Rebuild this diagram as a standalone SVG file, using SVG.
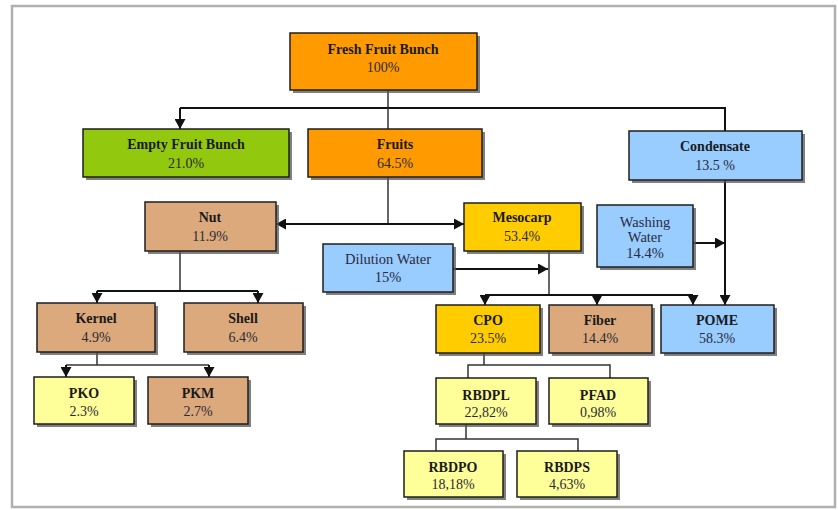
<svg xmlns="http://www.w3.org/2000/svg" width="838" height="510" viewBox="0 0 838 510">
<defs>
<marker id="ah" viewBox="0 0 10 11" refX="10" refY="5.5" markerWidth="10" markerHeight="11" markerUnits="userSpaceOnUse" orient="auto">
<path d="M0,0 L10,5.5 L0,11 z" fill="#111"/>
</marker>
</defs>
<style>
.sh{fill:#555;opacity:0.75}
.bx{stroke:#1e1e1e;stroke-width:1.5}
.or{fill:#FF9A00}
.gr{fill:#92C80E}
.bl{fill:#99CCFF}
.tn{fill:#DCA97C}
.gd{fill:#FFCC00}
.ly{fill:#FFFF99}
.t{font-family:"Liberation Serif","Times New Roman",serif;font-size:14px;font-weight:bold;fill:#1a1a1a;text-anchor:middle}
.p{font-family:"Liberation Serif","Times New Roman",serif;font-size:14px;fill:#2a2a36;text-anchor:middle}
.r{font-family:"Liberation Serif","Times New Roman",serif;font-size:14.5px;fill:#2a2a40;text-anchor:middle}
.c{fill:none;stroke:#111;stroke-width:2}
.ct{fill:none;stroke:#333;stroke-width:1.5}
.a{marker-end:url(#ah)}
</style>
<rect x="0" y="0" width="838" height="510" fill="#ffffff"/>
<rect x="12" y="6" width="823" height="501" fill="none" stroke="#b0b0b0" stroke-width="2.5"/>

<g id="connectors">
<path class="ct" d="M388,90 V108"/>
<path class="c" d="M180,108 H725 V131"/>
<path class="c a" d="M180,108 V129"/>
<path class="ct" d="M388,108 V129"/>
<path class="ct" d="M388,177 V224"/>
<path class="c a" d="M388,224 H276"/>
<path class="c a" d="M388,224 H464"/>
<path class="c a" d="M725,180 V305"/>
<path class="c a" d="M693,243 H725"/>
<path class="ct" d="M549,251 V295"/>
<path class="c a" d="M453,269 H548"/>
<path class="c" d="M485,295 H693"/>
<path class="c a" d="M485,295 V305"/>
<path class="c a" d="M597,295 V305"/>
<path class="c a" d="M693,295 V305"/>
<path class="ct" d="M180,251 V291"/>
<path class="c" d="M97,291 H258"/>
<path class="c a" d="M97,291 V303"/>
<path class="c a" d="M258,291 V303"/>
<path class="ct" d="M97,352 V365"/>
<path class="ct" d="M66,365 H209"/>
<path class="c a" d="M66,365 V377"/>
<path class="c a" d="M209,365 V377"/>
<path class="ct" d="M484,353 V365 M468,378 V365 H610 V378"/>
<path class="ct" d="M466,424 V439 M436,451 V439 H578 V451"/>
</g>

<g id="ffb">
<rect class="sh" x="293" y="36" width="187" height="57"/>
<rect class="bx or" x="290" y="33" width="187" height="57"/>
<text class="t" x="383" y="54">Fresh Fruit Bunch</text>
<text class="p" x="383" y="72">100%</text>
</g>
<g id="efb">
<rect class="sh" x="86" y="132" width="206" height="48"/>
<rect class="bx gr" x="83" y="129" width="206" height="48"/>
<text class="t" x="186" y="149">Empty Fruit Bunch</text>
<text class="p" x="186" y="168">21.0%</text>
</g>
<g id="fruits">
<rect class="sh" x="311" y="132" width="174" height="48"/>
<rect class="bx or" x="308" y="129" width="174" height="48"/>
<text class="t" x="395" y="149">Fruits</text>
<text class="p" x="395" y="168">64.5%</text>
</g>
<g id="condensate">
<rect class="sh" x="632" y="134" width="173" height="49"/>
<rect class="bx bl" x="629" y="131" width="173" height="49"/>
<text class="t" x="715" y="151">Condensate</text>
<text class="p" x="715" y="170">13.5 %</text>
</g>
<g id="nut">
<rect class="sh" x="148" y="205" width="131" height="49"/>
<rect class="bx tn" x="145" y="202" width="131" height="49"/>
<text class="t" x="210" y="222">Nut</text>
<text class="p" x="210" y="241">11.9%</text>
</g>
<g id="mesocarp">
<rect class="sh" x="467" y="206" width="117" height="48"/>
<rect class="bx gd" x="464" y="203" width="117" height="48"/>
<text class="t" x="522" y="222">Mesocarp</text>
<text class="p" x="522" y="241">53.4%</text>
</g>
<g id="dilution">
<rect class="sh" x="326" y="247" width="130" height="48"/>
<rect class="bx bl" x="323" y="244" width="130" height="48"/>
<text class="r" x="388" y="264">Dilution Water</text>
<text class="r" x="388" y="282">15%</text>
</g>
<g id="washing">
<rect class="sh" x="600" y="208" width="96" height="62"/>
<rect class="bx bl" x="597" y="205" width="96" height="62"/>
<text class="r" x="645" y="227">Washing</text>
<text class="r" x="645" y="242">Water</text>
<text class="r" x="645" y="258">14.4%</text>
</g>
<g id="kernel">
<rect class="sh" x="40" y="306" width="118" height="49"/>
<rect class="bx tn" x="37" y="303" width="118" height="49"/>
<text class="t" x="96" y="323">Kernel</text>
<text class="p" x="96" y="342">4.9%</text>
</g>
<g id="shell">
<rect class="sh" x="187" y="306" width="119" height="49"/>
<rect class="bx tn" x="184" y="303" width="119" height="49"/>
<text class="t" x="243" y="323">Shell</text>
<text class="p" x="243" y="342">6.4%</text>
</g>
<g id="cpo">
<rect class="sh" x="439" y="308" width="104" height="48"/>
<rect class="bx gd" x="436" y="305" width="104" height="48"/>
<text class="t" x="488" y="325">CPO</text>
<text class="p" x="488" y="343">23.5%</text>
</g>
<g id="fiber">
<rect class="sh" x="552" y="308" width="103" height="48"/>
<rect class="bx tn" x="549" y="305" width="103" height="48"/>
<text class="t" x="600" y="325">Fiber</text>
<text class="p" x="600" y="343">14.4%</text>
</g>
<g id="pome">
<rect class="sh" x="664" y="308" width="113" height="48"/>
<rect class="bx bl" x="661" y="305" width="113" height="48"/>
<text class="t" x="717" y="325">POME</text>
<text class="p" x="717" y="343">58.3%</text>
</g>
<g id="pko">
<rect class="sh" x="37" y="380" width="100" height="47"/>
<rect class="bx ly" x="34" y="377" width="100" height="47"/>
<text class="t" x="84" y="398">PKO</text>
<text class="p" x="84" y="416">2.3%</text>
</g>
<g id="pkm">
<rect class="sh" x="151" y="380" width="100" height="47"/>
<rect class="bx tn" x="148" y="377" width="100" height="47"/>
<text class="t" x="198" y="398">PKM</text>
<text class="p" x="198" y="416">2.7%</text>
</g>
<g id="rbdpl">
<rect class="sh" x="439" y="381" width="100" height="46"/>
<rect class="bx ly" x="436" y="378" width="100" height="46"/>
<text class="t" x="486" y="400">RBDPL</text>
<text class="p" x="486" y="417">22,82%</text>
</g>
<g id="pfad">
<rect class="sh" x="552" y="381" width="99" height="46"/>
<rect class="bx ly" x="549" y="378" width="99" height="46"/>
<text class="t" x="598" y="400">PFAD</text>
<text class="p" x="598" y="417">0,98%</text>
</g>
<g id="rbdpo">
<rect class="sh" x="407" y="454" width="99" height="46"/>
<rect class="bx ly" x="404" y="451" width="99" height="46"/>
<text class="t" x="453" y="472">RBDPO</text>
<text class="p" x="453" y="489">18,18%</text>
</g>
<g id="rbdps">
<rect class="sh" x="520" y="454" width="100" height="46"/>
<rect class="bx ly" x="517" y="451" width="100" height="46"/>
<text class="t" x="567" y="472">RBDPS</text>
<text class="p" x="567" y="489">4,63%</text>
</g>
</svg>
